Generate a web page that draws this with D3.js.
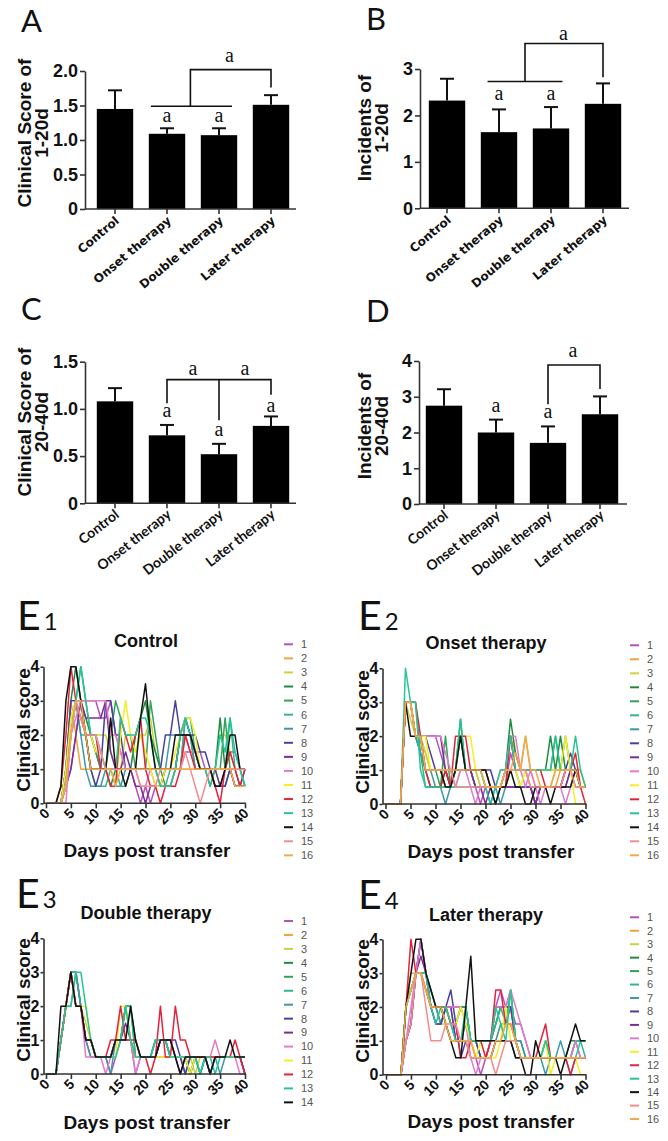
<!DOCTYPE html>
<html><head><meta charset="utf-8">
<script src="https://cdn.jsdelivr.net/npm/d3@7"></script>
<style>body{margin:0;background:#fff}svg{display:block}</style>
</head><body>
<svg id="c" width="668" height="1141"></svg>
<script>
// ---------- DATA ----------
const categories = ["Control","Onset therapy","Double therapy","Later therapy"];
const score1to20 = [1.45,1.09,1.07,1.51];
const score1to20Err = [0.27,0.08,0.10,0.14];
const incid1to20 = [2.32,1.64,1.72,2.25];
const incid1to20Err = [0.47,0.49,0.46,0.44];
const score20to40 = [1.08,0.72,0.52,0.82];
const score20to40Err = [0.14,0.11,0.11,0.10];
const incid20to40 = [2.75,2.00,1.71,2.51];
const incid20to40Err = [0.46,0.36,0.46,0.50];
const ticksA = [0,0.5,1.0,1.5,2.0];
const ticksB = [0,1,2,3];
const ticksC = [0,0.5,1.0,1.5];
const ticksD = [0,1,2,3,4];
const dayTicks = [0,5,10,15,20,25,30,35,40];
const scoreTicks = [0,1,2,3,4];
const mouseIds16 = ["1","2","3","4","5","6","7","8","9","10","11","12","13","14","15","16"];
const mouseIds14 = ["1","2","3","4","5","6","7","8","9","10","11","12","13","14"];
const mouseColors = ["#b64fc1","#f2a33a","#c8d43c","#1d8b40","#2fa356","#33b68c","#3e98a8","#4b40a0","#7d2b96","#e27bc9","#f3ef22","#e2233b","#27c596","#111111","#f38d90","#f0aa48"];

// daily clinical scores, day 0..40, one row per mouse
const controlScores = [
[0,0,0,0,0.5,1,2,3,3,3, 3,2.5,2.5,3,2,1.5,1,1,0.5,0, 0.5,0,0.5,0.5,1,1,1,1,1.5,1.5, 1.5,1.5,1,1,1,1,1,1.5,1.5,1, 1],
[0,0,0,0,1,3,2,1,1,1, 1,1,1,1,1,1,1,1,1,1, 1,1,1,0.5,0.5,0.5,1,1,1,1, 1,1,1,1,1,0.5,0.5,1,0.5,0.5, 0.5],
[0,0,0,0,0.5,2,3,2.5,2,2, 2,2,2,1.5,1,1,2,2,1.5,2, 2,2.5,1.5,1,1,1,1,2,2,2, 1,1,1,1,1,2,2,1.5,1,1, 1],
[0,0,0,0,1,3,4,3,2.5,2, 1.5,1,1,0.5,1,1,1,1,2,2.5, 3,2,1.5,1,1,1,1,2,2,2, 1.5,1,1,1,1,2.5,1,1,1,0.5, 0.5],
[0,0,0,0,0.5,2,3,4,3,2, 1.5,1,1,2,3,2.5,2,2,1,1, 1,3,2,1,0.5,0.5,1,1,2.5,2, 1,1,1,0.5,1,1,2.5,1,1,1, 0.5],
[0,0,0,0,1,2.5,3,2,2,1, 0.5,0.5,0.5,1,1,0.5,0.5,1,1,1, 1,1,1,0.5,0.5,1,1,1,2.5,2.5, 1.5,1,1,0.5,1,1,1,2.5,1,1, 0.5],
[0,0,0,0,1,2,3,2,1,0.5, 0.5,0.5,1,1,0.5,0.5,1,1,1,1, 1,1,1,1,1,2,2,2,2,2, 1,1,1,1,0.5,0.5,0.5,1,1,1, 1],
[0,0,0,0,1,3,3,3,2,1, 0.5,1,3,3,2,2,1,1,1,1, 1,1,1,1,2,2,3,2,2,2, 2,1.5,1.5,1,1,0.5,0.5,1,0.5,0.5, 1],
[0,0,0,0,0.5,1,2,3,2.5,2.5, 2.5,2.5,3,1.5,1,1,1.5,1,0.5,0.5, 0,0.5,0.5,0.5,1,1,1,2,2.5,2, 1.5,1,1,1,0.5,0.5,1,1,0.5,0.5, 0.5],
[0,0,0,0,0,2,2.5,3,3,3, 3,3,3,2,2,1.5,1,1,1,0.5, 0.5,1,0.5,0.5,0.5,0.5,1,1,2,1.5, 1.5,1,1,1,1,1,1,1,1,1, 1],
[0,0,0,0,1,2.5,3,2.5,2,2, 1.5,1.5,1,1,0.5,2,3,2,1.5,2, 1.5,1,0.5,0.5,1,1,1.5,2,2.5,2.5, 2,1,1,1,1,1,1,1,1,1, 1],
[0,0,0,0.5,2,4,3,2.5,2,2, 2,1,1,0.5,0.5,2.5,2,1.5,2,2.5, 1,0.5,0.5,0,0.5,0.5,0.5,1,2,1.5, 1,1,1,1,0.5,0,1,1.5,1,0.5, 1],
[0,0,0,0,0.5,2,3,4,3,2, 2,1.5,1,1,1,2.5,2,2,2,2.5, 2.5,2,1,0.5,0.5,0.5,1,2,2.5,2, 1.5,1,1,1,1,2,1.5,2.5,1.5,1, 0.5],
[0,0,0,0.5,3,4,4,3,2,1, 1,1,1,2.5,1,1,0.5,1,1,2.5, 3.5,2,1,1,1,1,2,2,2,2, 1.5,1,1,1,0.5,0.5,1,2,2,1, 1],
[0,0,0,0,0.5,2,3,2.5,2,2, 2,1.5,1,1,1,1,1,1,1,0.5, 0.5,0.5,0.5,1,1,1,1,1,1.5,1, 0.5,0,0.5,1,1,1,1,1,1,1, 1],
[0,0,0,0,0.5,2,3,3,2,1, 1,1,1,1,0.5,1,1,1,1,1, 1,1,1,1,1,1,1,1,1,1, 1,1,1,1,1,1,1,1,0.5,0.5, 0.5]
];
const onsetScores = [
[0,0,0,0,3,3,2,2,2,2, 2,1.5,1,1,1,2,1,1,0.5,0, 0.5,0.5,0.5,0.5,0.5,1.5,1,1,1,0.5, 0,0.5,0.5,0.5,0.5,0.5,1,1,1,0.5, 0.5],
[0,0,0,0,3,3,2,2,1.5,1, 1,1,0.5,0.5,1,1,1,1,1,0.5, 0.5,0.5,0.5,0.5,1,2,1.5,1,2,1, 0.5,0.5,0.5,0.5,0.5,1,1,1,1,1, 0.5],
[0,0,0,0,3,2.5,2,2,1.5,1, 1,1,1,0.5,0.5,1,1,1,1,0.5, 0.5,0.5,0.5,0.5,0.5,1,1,1,1,0.5, 0.5,0.5,0.5,0.5,1,1,1,1,1,0.5, 0.5],
[0,0,0,0,3,3,2,1.5,1,0.5, 0.5,0.5,1,0.5,1,2.5,1,1,0.5,0.5, 0.5,0.5,0.5,0.5,1,2.5,1.5,1,1,1, 1,1,1,2,1,2,1,1,1,0.5, 0.5],
[0,0,0,0,3,3,2,1.5,1,1, 1,0.5,2,0.5,1,2,1,1,1,1, 0.5,0.5,0.5,0.5,1,2,1,1,1,1, 1,1,1,1,2,1,2,1,1,0.5, 0.5],
[0,0,0,0,3,3,3,1.5,0.5,0.5, 0.5,0.5,0.5,0.5,0.5,0.5,0.5,0.5,0.5,0.5, 0.5,0.5,0,0.5,0.5,1,1,1,1,1, 1,1,1,1,1,1,1,1,0.5,0.5, 0.5],
[0,0,0,0,3,3,2,1.5,1,1, 0.5,0.5,0,0.5,1,1,1,1,0.5,0.5, 0.5,0,0.5,0,0.5,1,1,0.5,0.5,0.5, 0.5,0.5,0.5,0.5,0.5,0.5,0.5,1,1,0.5, 0.5],
[0,0,0,0,3,3,2,2,2,1.5, 1,1,0.5,0.5,1,1,1,1,1,1, 1,1,0.5,0.5,0.5,0.5,0.5,0.5,0.5,0.5, 0,0.5,0.5,0.5,0.5,0.5,1,1.5,1,0.5, 0.5],
[0,0,0,0,3,3,2,2,2,2, 2,2,1,0.5,1,1,1,1,0.5,0.5, 0,0.5,0.5,0.5,0.5,0.5,0.5,0.5,0.5,0.5, 0,0.5,0.5,0.5,0.5,0.5,0.5,1,1,0.5, 0.5],
[0,0,0,0,3,3,2,2,2,2, 2,2,1.5,1,0.5,1,1,0.5,0,0.5, 0.5,0.5,0.5,1,1,2,2,1,0.5,1, 0.5,0,0.5,0.5,0.5,0.5,0,0.5,1,0.5, 0.5],
[0,0,0,0,3,3,2,2,2,1, 1,1,0.5,0.5,1,2,2,2,1,1, 1,0.5,0.5,0.5,0.5,1,1,0.5,1,1, 1,1,1,1,1,1,2,1,0,0, 0],
[0,0,0,0,3,3,3,2,1,0.5, 0.5,0.5,1,0.5,2,2,2,1,1,1, 1,0.5,0.5,0.5,0.5,2,1,1,1,1, 1,1,0.5,0.5,0.5,0.5,1,1,1.5,0.5, 0],
[0,0,0,0,4,3,3,1,0.5,0.5, 0.5,0.5,0.5,0.5,1,2.5,1,1,1,1, 0.5,0,0.5,1,1,2,1,1,1,1, 1,1,1,1,2,1,1,1,2,1, 0.5],
[0,0,0,0,3,2,2,2,1,1, 1,1,0.5,0.5,1,2,1,1,1,1, 1,0.5,0,0.5,0.5,1,0.5,0.5,0,0, 0.5,0.5,0.5,0,0.5,0.5,0.5,0.5,1,0.5, 0.5],
[0,0,0,0,3,3,2,2,1,1, 1,1,1,1,0.5,0.5,0.5,0.5,0.5,0.5, 0.5,0.5,0.5,0.5,1,1,1,1,1,0.5, 0.5,0.5,0.5,0.5,0.5,0.5,1,1,0.5,0.5, 0.5],
[0,0,0,0,3,3,2,2,1,1, 1,1,1,1,1,1,1,1,1,1, 0.5,0.5,0.5,0.5,1,1,1.5,1,2,1, 1,0.5,0.5,0.5,1,1,1,1,1,0.5, 0.5]
];
const doubleScores = [
[0,0,0,1,2,3,2,2,1,0.5, 0.5,0.5,0.5,0,0.5,1,1,1,0,0.5, 0.5,0.5,0.5,1,1,1,0.5,0.5,0.5,0, 0.5,0.5,0.5,0.5,0.5,0.5,0.5,0.5,0.5,0.5, 0],
[0,0,0,1,2,3,2,2,1,1, 0.5,0.5,0.5,0.5,1,1,2,1,0.5,0.5, 0.5,0.5,0.5,1,1,0.5,0.5,0.5,0.5,0.5, 0.5,0.5,0.5,0.5,0.5,0.5,0.5,0.5,0.5,0.5, 0.5],
[0,0,0,1,2,3,2,2,1.5,1, 0.5,0.5,0.5,0.5,1,1,2,1,0.5,0.5, 0.5,0.5,0.5,0.5,0.5,0.5,0.5,0.5,0.5,0.5, 0,0.5,0.5,0.5,0.5,0.5,0.5,0.5,0.5,0.5, 0.5],
[0,0,0,1,2,3,3,2,1,1, 0.5,0.5,0.5,0.5,1,1,2,2,1,0.5, 0.5,0.5,1,1,1,0.5,0.5,0.5,0.5,0, 0.5,0.5,0.5,0.5,0.5,0.5,0.5,0.5,0.5,0.5, 0.5],
[0,0,0,1,2,3,3,2,1,1, 0.5,0.5,0.5,0.5,1,1,2,2,0.5,0.5, 0.5,0.5,1,1,1,0.5,0.5,0.5,0,0.5, 0.5,0,0.5,0.5,0.5,0.5,0.5,0.5,0.5,0.5, 0.5],
[0,0,0,1,2,3,3,2,1,1, 0.5,0.5,0.5,0.5,1,1,2,2,0.5,0.5, 0.5,0.5,1,1,1,0.5,0.5,0.5,0.5,0.5, 0.5,0,0.5,0,0.5,0.5,0.5,0.5,0.5,0.5, 0.5],
[0,0,0,1,2,2,3,2,1,0.5, 0.5,0.5,0.5,0,1,1,1,1,0.5,0.5, 0.5,0.5,0.5,1,1,0.5,0.5,0.5,0.5,0, 0.5,0,0.5,0,0.5,0,0.5,0.5,0.5,0.5, 0.5],
[0,0,0,1,2,3,2,2,1,1, 0.5,0.5,0.5,0.5,1,1,1,1,0.5,0.5, 0.5,0.5,0.5,1,1,1,1,0.5,0,0.5, 0.5,0.5,0.5,0,0.5,0.5,0.5,0.5,0.5,0.5, 0],
[0,0,0,1,2,3,2,2,1,1, 0.5,0.5,0.5,0.5,1,1,1.5,1,0.5,0.5, 0.5,0.5,0.5,1,1,1,0.5,0,0.5,0.5, 0.5,0.5,0.5,0.5,0.5,0.5,0.5,0.5,0.5,0.5, 0],
[0,0,0,1,2,3,2,2,0.5,0.5, 0.5,0.5,0,0.5,1,1,1,1,0,0.5, 0.5,0.5,0.5,0.5,0.5,0.5,0.5,0.5,0.5,0.5, 0.5,0.5,0.5,0.5,1,0.5,0.5,0.5,0.5,0, 0],
[0,0,0,1,2,3,2,2,2,1, 0.5,0.5,0.5,0.5,0.5,2,2,1,0.5,0.5, 0.5,0.5,0.5,0.5,0.5,0.5,0.5,0.5,0.5,0, 0.5,0.5,0.5,0.5,0.5,0.5,0.5,0.5,0.5,0.5, 0.5],
[0,0,0,1,2,3,2,2,1,1, 0.5,0.5,0.5,1,1,2,1,1,1,0.5, 0.5,0,0.5,2,0.5,0.5,2,1,1,0.5, 0.5,0.5,0.5,0.5,0.5,0.5,0.5,0.5,1,0.5, 0],
[0,0,0,1,2,2,3,3,2,1, 0.5,0.5,0.5,0.5,0.5,1,2,1,0.5,0.5, 0.5,0.5,1,1,1,0.5,0.5,0.5,0.5,0.5, 0.5,0,0.5,0.5,0,0.5,0.5,0.5,0.5,0.5, 0.5],
[0,0,0,2,2,3,2,2,1,1, 0.5,0.5,0.5,0.5,1,1,1,2,1,0.5, 0.5,0.5,0.5,1,1,1,0.5,0,0.5,0.5, 0.5,0.5,0.5,0,0.5,0.5,0.5,1,0.5,0.5, 0.5]
];
const laterScores = [
[0,0,0,0,1,1.5,3,4,3,2, 1.5,1.5,2,2,2,2,2,1,0.5,0, 0.5,1,2,2.5,2,2,1.5,1.5,1,0.5, 0.5,0.5,0.5,0.5,0.5,0.5,0.5,0.5,1,0.5, 0.5],
[0,0,0,0,2,3,3,3,2.5,2, 2,2,1.5,1,1,1,1,1,0.5,0.5, 0.5,0.5,1,1,1.5,1.5,1,0.5,0.5,0.5, 0.5,0.5,0.5,0.5,0.5,0.5,0.5,0.5,0.5,0.5, 0.5],
[0,0,0,0,2,2.5,3,3,2.5,2, 2,1.5,1.5,1,1,1,1,1,1,0.5, 0.5,0.5,1,1.5,1.5,2,1,1,0.5,0.5, 0.5,0.5,0.5,0.5,0.5,0.5,0.5,0.5,0.5,0.5, 0.5],
[0,0,0,0,2,2.5,3,3,3,2, 2,2,2,1.5,1.5,2,2,1,1,1, 1,1,1.5,2,2,2,1,0.5,0.5,0.5, 0.5,0.5,1,0.5,0.5,0.5,0.5,1,1,1, 1],
[0,0,0,0,2,2.5,3,3,3,2.5, 2,2,2,1.5,1.5,2,2,1,1,0.5, 0.5,1,1.5,2,2,2.5,1,0.5,0.5,0.5, 0.5,0.5,1,0.5,0.5,0.5,0.5,0.5,1,1, 1],
[0,0,0,0,2,2.5,3,3,3,2, 2,1.5,2,1.5,1,1,1.5,1,1,1, 1,1,1.5,2,1.5,2.5,1,1,0.5,0.5, 0.5,0.5,1,0.5,0.5,0.5,0.5,0.5,1,1, 0.5],
[0,0,0,0,2,2.5,3,4,3,2.5, 2,1.5,2,2,1,1,1,1,1,0.5, 0.5,0.5,1,1.5,1.5,2,1,1,0.5,0.5, 0.5,0.5,0,0.5,0.5,1,0.5,0,0.5,0.5, 0.5],
[0,0,0,0,1,1.5,3,4,3,2, 1.5,1.5,2,2.5,1.5,0.5,1,1,1,0.5, 0.5,0.5,1,1,1,1,0.5,0.5,0.5,0.5, 0.5,0.5,0.5,0.5,0.5,0.5,0.5,0.5,0.5,0.5, 0.5],
[0,0,0,0,1,1.5,3,3.5,3,2, 2,2,2,2,1,1,1,0.5,0.5,0.5, 0.5,1,2,2,2,2,1,0.5,0.5,0.5, 0.5,0.5,0.5,0.5,0.5,0.5,0.5,0.5,0.5,0.5, 0.5],
[0,0,0,0,1,2,3,4,3,2, 2,2,2,2,2,2,1.5,0.5,0,0.5, 0.5,1,2,2,2,2.5,2,1.5,1,0.5, 0.5,0.5,0.5,0.5,0.5,0.5,0.5,0.5,1,0.5, 0.5],
[0,0,0,0,2,2.5,3,3,2.5,2, 2,2,2,1.5,1.5,2,1.5,1,0.5,1, 0.5,0.5,0.5,1,2,1,1,0.5,0.5,0.5, 0.5,0.5,1,0,0.5,0.5,0.5,0.5,0.5,0, 0],
[0,0,0,0,2,4,3,3,2.5,2, 2,2,2,1.5,1.5,0.5,0.5,1,1,1, 0.5,1,2.5,2.5,1.5,1.5,1,0.5,0.5,0.5, 0.5,1,1.5,0.5,0.5,0.5,0.5,0,0.5,0.5, 0.5],
[0,0,0,0,2,2.5,3,3,3,2, 1.5,2,2,1.5,1,1,2,1,1,1, 1,1,2,1.5,1,2.5,1,0.5,0.5,0.5, 0.5,0.5,1,0.5,0.5,0.5,0.5,0.5,0.5,1, 1],
[0,0,0,0,2,3,4,4,3,2.5, 2,2,1.5,1,0.5,0.5,2,3.5,1,1, 1,1,1,1,1,1,0.5,0.5,0,0, 1,0.5,0.5,0.5,0.5,0,0.5,1,1.5,1, 1],
[0,0,0,0,1,1.5,3,3,2,1, 1,1,1.5,1.5,1.5,1,1,0.5,0.5,0.5, 0.5,0.5,0,0.5,1,1,1,0.5,0.5,0.5, 0.5,0.5,0.5,0.5,0.5,0.5,0.5,0.5,0.5,0.5, 0.5],
[0,0,0,0,2,2.5,3,3,2.5,2, 2,2,1.5,1,1,1,1,1,0.5,0.5, 0.5,0.5,1,1,1.5,1.5,1,0.5,0.5,0.5, 0.5,0.5,0.5,0.5,0.5,0.5,0.5,0.5,0.5,0.5, 0.5]
];

// ---------- DRAW ----------
const svg = d3.select("#c");
const AX = "#333";
const SANS = "'Liberation Sans', Arial, sans-serif";
const WIDE = "'DejaVu Sans', Verdana, sans-serif";
const CAL = "Lato, 'Open Sans', sans-serif";
const SERIF = "'Liberation Serif', 'DejaVu Serif', serif";

function barPanel(o){
  const g = svg.append("g");
  const x = d3.scaleBand().domain(categories).range(o.xr).paddingInner(0.3).paddingOuter(0.15);
  const y = d3.scaleLinear().domain(o.ydom).range([o.y0,o.y1]);
  const step = x.step();
  const cx = i => x(categories[i]) + x.bandwidth()/2;
  const fx = p => cx(0) + p*step;
  g.selectAll("line.err").data(o.vals).join("line")
    .attr("x1",(d,i)=>cx(i)).attr("x2",(d,i)=>cx(i))
    .attr("y1",d=>y(d)).attr("y2",(d,i)=>y(d+o.errs[i]))
    .attr("stroke","#111").attr("stroke-width",2);
  g.selectAll("line.cap").data(o.vals).join("line")
    .attr("x1",(d,i)=>cx(i)-7).attr("x2",(d,i)=>cx(i)+7)
    .attr("y1",(d,i)=>y(d+o.errs[i])).attr("y2",(d,i)=>y(d+o.errs[i]))
    .attr("stroke","#111").attr("stroke-width",2);
  g.selectAll("rect").data(o.vals).join("rect")
    .attr("x",(d,i)=>x(categories[i])).attr("y",d=>y(d))
    .attr("width",x.bandwidth()).attr("height",d=>o.y0-y(d)).attr("fill","#000");
  const ya = g.append("g").attr("transform",`translate(${o.ax},0)`)
    .call(d3.axisLeft(y).tickValues(o.ticks).tickFormat(o.fmt).tickSize(5).tickSizeOuter(0).tickPadding(2));
  ya.select(".domain").attr("stroke",AX).attr("stroke-width",1.6);
  ya.selectAll(".tick line").attr("stroke",AX).attr("stroke-width",1.6);
  ya.selectAll("text").attr("fill","#111").style("font-family",SANS).style("font-weight","bold").style("font-size","18px");
  const xa = g.append("g").attr("transform",`translate(0,${o.y0})`)
    .call(d3.axisBottom(x).tickSize(5).tickSizeOuter(0).tickFormat(""));
  xa.select(".domain").remove();
  xa.selectAll(".tick line").attr("stroke",AX).attr("stroke-width",1.6);
  g.append("line").attr("x1",o.ax).attr("x2",o.axEnd).attr("y1",o.y0).attr("y2",o.y0).attr("stroke",AX).attr("stroke-width",1.6);
  g.selectAll("text.cat").data(categories).join("text")
    .attr("transform",(d,i)=>`translate(${cx(i)+5},${o.y0+13}) rotate(${o.angle})`)
    .attr("text-anchor","end").attr("fill","#111")
    .style("font-family",o.catFont).style("font-weight","bold").style("font-size",o.catSize+"px")
    .text(d=>d);
  o.brackets.forEach(pts=>{
    g.append("path").attr("d",d3.line().x(p=>fx(p[0])).y(p=>y(p[1]))(pts))
      .attr("fill","none").attr("stroke","#111").attr("stroke-width",1.6);
  });
  o.marks.forEach(m=>{
    g.append("text").attr("x",fx(m[0])).attr("y",y(m[1])).attr("text-anchor","middle")
      .style("font-family",SERIF).style("font-size","20px").attr("fill","#111").text("a");
  });
  o.ylab.forEach((t,k)=>{
    g.append("text").attr("transform",`translate(${o.ylabX[k]},${o.ylabY}) rotate(-90)`)
      .attr("text-anchor","middle").attr("fill","#111")
      .style("font-family",SANS).style("font-weight","bold").style("font-size","19px").text(t);
  });
  g.append("text").attr("x",o.letterPos[0]).attr("y",o.letterPos[1])
    .style("font-family",CAL).style("font-size","31px").attr("fill","#111").text(o.letter);
}

const f1 = d => d===0 ? "0" : d3.format(".1f")(d);
const f0 = d3.format("d");

barPanel({xr:[89,297],ax:85,axEnd:296,y0:209,y1:71,ydom:[0,2],ticks:ticksA,fmt:f1,vals:score1to20,errs:score1to20Err,
  angle:-40,catFont:WIDE,catSize:12,letter:"A",letterPos:[21,32],ylab:["Clinical Score of","1-20d"],ylabX:[31,48],ylabY:133,
  brackets:[[[0.69,1.49],[2.25,1.49]],[[1.45,1.49],[1.45,2.02],[3,2.02],[3,1.76]]],
  marks:[[2.2,2.13],[1,1.26],[2,1.26]]});
barPanel({xr:[421,629],ax:420,axEnd:629,y0:208.3,y1:69,ydom:[0,3],ticks:ticksB,fmt:f0,vals:incid1to20,errs:incid1to20Err,
  angle:-40,catFont:WIDE,catSize:12,letter:"B",letterPos:[366,30],ylab:["Incidents of","1-20d"],ylabX:[371,388],ylabY:128,
  brackets:[[[0.78,2.73],[2.22,2.73]],[[1.5,2.73],[1.5,3.55],[3,3.55],[3,2.82]]],
  marks:[[2.24,3.62],[1,2.33],[2,2.33]]});
barPanel({xr:[89,297],ax:85,axEnd:296,y0:503.3,y1:361.7,ydom:[0,1.5],ticks:ticksC,fmt:f1,vals:score20to40,errs:score20to40Err,
  angle:-38,catFont:CAL,catSize:14,letter:"C",letterPos:[21,320],ylab:["Clinical Score of","20-40d"],ylabX:[31,48],ylabY:422,
  brackets:[[[1,1.06],[1,1.31],[3,1.31],[3,1.15]],[[2,1.31],[2,0.88]]],
  marks:[[1.5,1.36],[2.5,1.36],[1,0.914],[2,0.713],[3,0.967]]});
barPanel({xr:[418,626],ax:419,axEnd:627,y0:504,y1:361,ydom:[0,4],ticks:ticksD,fmt:f0,vals:incid20to40,errs:incid20to40Err,
  angle:-38,catFont:CAL,catSize:14,letter:"D",letterPos:[366,322],ylab:["Incidents of","20-40d"],ylabX:[371,388],ylabY:426,
  brackets:[[[2,2.79],[2,3.89],[3,3.89],[3,3.22]]],
  marks:[[2.48,4.11],[1,2.57],[2,2.41]]});

function linePanel(o){
  const g = svg.append("g");
  const x = d3.scaleLinear().domain([0,40]).range([o.x0,o.x40]);
  const y = d3.scaleLinear().domain([0,4]).range([o.y0,o.y4]);
  const line = d3.line().x((d,i)=>x(i)).y(d=>y(d));
  o.series.forEach((s,k)=>{
    g.append("path").attr("d",line(s)).attr("fill","none").attr("stroke",mouseColors[k]).attr("stroke-width",1.5).attr("stroke-linejoin","round");
  });
  const ya = g.append("g").attr("transform",`translate(${o.ax},0)`)
    .call(d3.axisLeft(y).tickValues(scoreTicks).tickFormat(d3.format("d")).tickSize(3).tickSizeOuter(0).tickPadding(1));
  ya.select(".domain").attr("stroke",AX).attr("stroke-width",1.6);
  ya.selectAll(".tick line").attr("stroke",AX).attr("stroke-width",1.6);
  ya.selectAll("text").attr("fill","#111").style("font-family",SANS).style("font-weight","bold").style("font-size","16px");
  const xa = g.append("g").attr("transform",`translate(0,${o.y0})`)
    .call(d3.axisBottom(x).tickValues(dayTicks).tickFormat(d3.format("d")).tickSize(5).tickSizeOuter(0));
  xa.select(".domain").remove();
  xa.selectAll(".tick line").attr("stroke",AX).attr("stroke-width",1.6);
  xa.selectAll(".tick text").attr("y",0).attr("dy",0)
    .attr("transform","translate(4,11) rotate(-45)").attr("text-anchor","end").attr("fill","#111")
    .style("font-family",SANS).style("font-weight","bold").style("font-size","14px");
  g.append("line").attr("x1",o.ax).attr("x2",o.x40+1).attr("y1",o.y0).attr("y2",o.y0).attr("stroke",AX).attr("stroke-width",1.6);
  g.append("text").attr("x",o.titleX).attr("y",o.titleY).attr("text-anchor","middle").attr("fill","#111")
    .style("font-family",SANS).style("font-weight","bold").style("font-size","18px").text(o.title);
  g.append("text").attr("x",o.xlabX).attr("y",o.xlabY).attr("text-anchor","middle").attr("fill","#111")
    .style("font-family",SANS).style("font-weight","bold").style("font-size","19px").text("Days post transfer");
  g.append("text").attr("transform",`translate(${o.ylabX},${o.ylabY}) rotate(-90)`).attr("text-anchor","middle").attr("fill","#111")
    .style("font-family",SANS).style("font-weight","bold").style("font-size","19px").text("Clinical score");
  const lg = g.selectAll("g.leg").data(o.ids).join("g").attr("transform",(d,i)=>`translate(${o.legX},${o.legY+i*o.legStep})`);
  lg.append("line").attr("x1",0).attr("x2",9).attr("stroke",(d,i)=>mouseColors[i]).attr("stroke-width",2);
  lg.append("text").attr("x",17).attr("dy","0.35em").attr("fill","#555")
    .style("font-family",SANS).style("font-size","11px").text(d=>d);
  const t = g.append("text").attr("x",o.letX).attr("y",o.letY).attr("fill","#111").style("font-family",CAL);
  t.append("tspan").style("font-size","41px").text("E");
  t.append("tspan").style("font-size","24px").attr("dx",3).text(o.sub);
}

linePanel({series:controlScores,ids:mouseIds16,ax:43.5,x0:46,x40:245,y0:803.3,y4:666.7,title:"Control",titleX:146,titleY:647,
  xlabX:147,xlabY:857,ylabX:30,ylabY:730,legX:284,legY:644.3,legStep:14.07,letX:17,letY:630,sub:"1"});
linePanel({series:onsetScores,ids:mouseIds16,ax:382.5,x0:385.5,x40:585.5,y0:804,y4:668.3,title:"Onset therapy",titleX:486,titleY:649,
  xlabX:491,xlabY:858,ylabX:369,ylabY:732,legX:630,legY:645.3,legStep:14,letX:358,letY:630,sub:"2"});
linePanel({series:doubleScores,ids:mouseIds14,ax:43.5,x0:46,x40:245,y0:1074,y4:938.3,title:"Double therapy",titleX:146,titleY:919,
  xlabX:147,xlabY:1129,ylabX:30,ylabY:1000,legX:284,legY:921,legStep:13.95,letX:16,letY:908,sub:"3"});
linePanel({series:laterScores,ids:mouseIds16,ax:382.5,x0:386,x40:585.5,y0:1074.7,y4:939.3,title:"Later therapy",titleX:486,titleY:921,
  xlabX:491,xlabY:1128,ylabX:369,ylabY:1001,legX:630,legY:917.3,legStep:13.45,letX:358,letY:909,sub:"4"});
</script>
</body></html>
